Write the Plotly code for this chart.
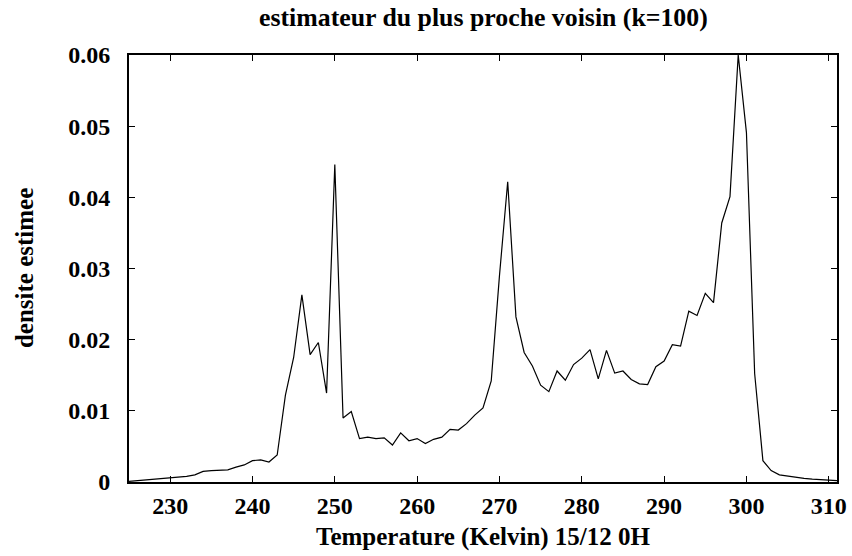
import plotly.graph_objects as go

temperature = list(range(225, 312))
density = [
    0.0001, 0.0002, 0.0003, 0.0003, 0.0004, 0.0005, 0.0006, 0.0008, 0.0010, 0.0015,
    0.0016, 0.0016, 0.0017, 0.0021, 0.0024, 0.0030, 0.0031, 0.0028, 0.0038, 0.0122,
    0.0175, 0.0263, 0.0179, 0.0196, 0.0125, 0.0446, 0.0090, 0.0099, 0.0061, 0.0063,
    0.0061, 0.0062, 0.0052, 0.0069, 0.0058, 0.0061, 0.0054, 0.0060, 0.0063, 0.0074,
    0.0073, 0.0082, 0.0094, 0.0104, 0.0142, 0.0290, 0.0422, 0.0232, 0.0182, 0.0163,
    0.0136, 0.0127, 0.0156, 0.0143, 0.0165, 0.0174, 0.0186, 0.0145, 0.0185, 0.0153,
    0.0156, 0.0144, 0.0138, 0.0137, 0.0162, 0.0170, 0.0193, 0.0191, 0.0240, 0.0234,
    0.0265, 0.0252, 0.0364, 0.0401, 0.0600, 0.0491, 0.0152, 0.0030, 0.0016, 0.0010,
    0.0008, 0.0006, 0.0005, 0.0004, 0.0003, 0.0002, 0.0002,
]
x_ticks = [230, 240, 250, 260, 270, 280, 290, 300, 310]
y_ticks = [0, 0.01, 0.02, 0.03, 0.04, 0.05, 0.06]
y_tick_labels = ["0", "0.01", "0.02", "0.03", "0.04", "0.05", "0.06"]

title_text = "estimateur du plus proche voisin (k=100)"
x_title = "Temperature (Kelvin) 15/12 0H"
y_title = "densite estimee"

font_family = "Liberation Serif"

fig = go.Figure()
fig.add_trace(go.Scatter(
    x=temperature, y=density, mode="lines",
    line=dict(color="black", width=1.2),
    showlegend=False, cliponaxis=True, hoverinfo="skip",
))

axis_common = dict(
    ticks="inside", ticklen=6, tickwidth=1.2, tickcolor="black",
    showline=True, linecolor="black", linewidth=2, mirror="allticks",
    showgrid=False, zeroline=False, automargin=False,
    tickfont=dict(size=24, family=font_family, color="black"),
)

fig.update_layout(
    width=852, height=556,
    margin=dict(l=129, r=15, t=55, b=74),
    paper_bgcolor="white", plot_bgcolor="white",
    font=dict(family=font_family, color="black"),
    xaxis=dict(
        range=[225, 311], tickvals=x_ticks,
        ticktext=[f"<b>{v}</b>" for v in x_ticks],
        ticklabelstandoff=1,
        **axis_common,
    ),
    yaxis=dict(
        range=[0, 0.06], tickvals=y_ticks,
        ticktext=[f"<b>{t}</b>" for t in y_tick_labels],
        ticklabelstandoff=12,
        **axis_common,
    ),
    annotations=[
        dict(text=f"<b>{title_text}</b>", xref="paper", yref="paper",
             x=0.5, y=1.0867, xanchor="center", yanchor="middle",
             showarrow=False, font=dict(size=25.8, family=font_family, color="black")),
        dict(text=f"<b>{x_title}</b>", xref="paper", yref="paper",
             x=0.5, y=-0.1296, xanchor="center", yanchor="middle",
             showarrow=False, font=dict(size=25, family=font_family, color="black")),
        dict(text=f"<b>{y_title}</b>", xref="paper", yref="paper",
             x=-0.1477, y=0.502, xanchor="center", yanchor="middle", textangle=-90,
             showarrow=False, font=dict(size=25, family=font_family, color="black")),
    ],
)

fig.write_html(
    "out.html",
    config={"displayModeBar": False, "staticPlot": True},
    post_script="document.body.style.margin='0';document.body.style.padding='0';document.documentElement.style.overflow='hidden';",
)
